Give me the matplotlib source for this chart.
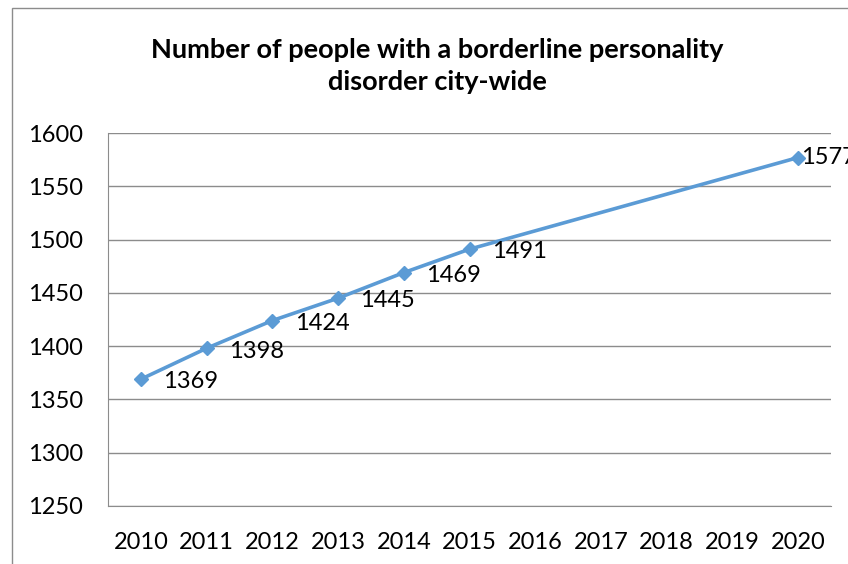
import matplotlib
matplotlib.use("Agg")
import matplotlib.pyplot as plt
from matplotlib.patches import Rectangle

years = ["2010", "2011", "2012", "2013", "2014", "2015", "2016", "2017", "2018", "2019", "2020"]
data_years = ["2010", "2011", "2012", "2013", "2014", "2015", "2020"]
values = [1369, 1398, 1424, 1445, 1469, 1491, 1577]
y_ticks = [1250, 1300, 1350, 1400, 1450, 1500, 1550, 1600]
title = "Number of people with a borderline personality\ndisorder city-wide"

plt.rcParams['font.family'] = ['Lato', 'DejaVu Sans']
W, H = 848, 564
fig = plt.figure(figsize=(W/100, H/100), dpi=100)
ax = fig.add_axes([108/W, 1-506/H, (831-108)/W, (506-133)/H])

# outer chart frame (right and bottom edges lie beyond the picture)
fig.patches.append(Rectangle((12/W, -0.05), 1.0, 1.05-8/H, transform=fig.transFigure,
                             fill=False, edgecolor='#8c8c8c', linewidth=1.0))

xpos = [years.index(y) for y in data_years]
ax.plot(xpos, values, color='#5B9BD5', linewidth=2.6, marker='D', markersize=7,
        markerfacecolor='#5B9BD5', markeredgecolor='#5B9BD5', zorder=3, clip_on=False)
for i, (x, v) in enumerate(zip(xpos, values)):
    dx = 2 if i == len(values) - 1 else 16
    dy = 0 if i == len(values) - 1 else -2
    ax.annotate(str(v), (x, v), xytext=(dx, dy), textcoords='offset points',
                ha='left', va='center', fontsize=17, color='black')

ax.set_xlim(-0.5, len(years) - 0.5)
ax.set_ylim(1250, 1600)
ax.set_xticks(range(len(years)))
ax.set_xticklabels(years, fontsize=17)
ax.set_yticks(y_ticks)
ax.set_yticklabels([str(t) for t in y_ticks], fontsize=17)
ax.tick_params(axis='x', length=0, pad=19)
ax.tick_params(axis='y', length=0, pad=18)
ax.grid(axis='y', color='#8c8c8c', linewidth=1.0)
ax.set_axisbelow(True)
for s in ['top', 'right']:
    ax.spines[s].set_visible(False)
for s in ['left', 'bottom']:
    ax.spines[s].set_color('#8c8c8c')

fig.text(437/W, 1-66/H, title, ha='center', va='center', fontsize=19.5,
         fontweight='bold', linespacing=1.35)

fig.savefig("out.png", dpi=100)
